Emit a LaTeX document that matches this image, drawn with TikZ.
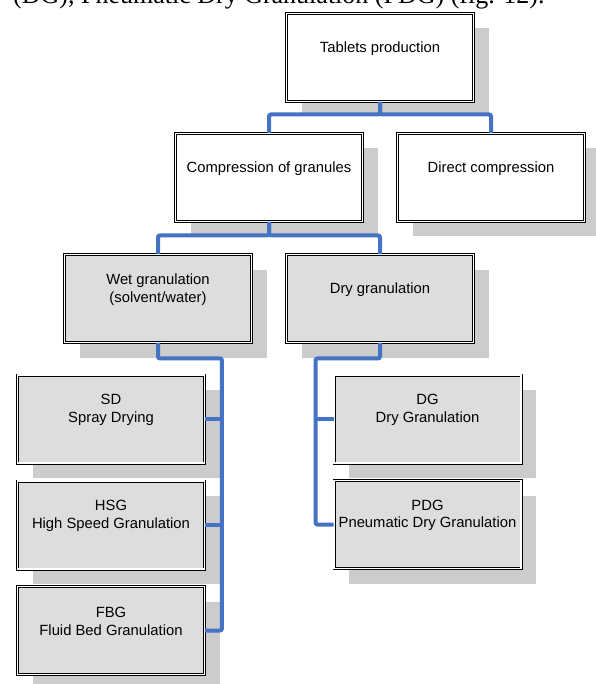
\documentclass[tikz,border=0pt]{standalone}
\usepackage{fontspec}
\setmainfont{Liberation Sans}
\newfontfamily\bodyfont{Liberation Serif}
\usetikzlibrary{shadows}

\definecolor{linkblue}{RGB}{68,114,196}
\definecolor{shadowgray}{RGB}{204,204,204}
\definecolor{boxgray}{RGB}{221,221,221}

\begin{document}
\begin{tikzpicture}[x=1pt, y=-1pt,
  box/.style={draw=black, double=white, double distance=1.2pt, line width=0.9pt,
              minimum width=187pt, minimum height=88pt, inner sep=0pt,
              general shadow={fill=shadowgray, shadow xshift=15pt, shadow yshift=-15pt}},
  whitebox/.style={box, fill=white},
  graybox/.style={box, fill=boxgray},
  txt/.style={align=center, font=\fontsize{14.8}{17.5}\selectfont},
  link/.style={linkblue, line width=4pt, rounded corners=2pt}]

\useasboundingbox (0,0) rectangle (595,684);

%\draw[help lines, step=50] (0,0) grid (595,684);

% text of the page above the figure
\node[anchor=base west, inner sep=0pt, font=\bodyfont\fontsize{26}{30}\selectfont] (pagetext) at (13,4)
     {(DG), Pneumatic Dry Granulation (PDG) (fig. 12).};

% first two levels
\node[whitebox] (tab) at (380,57.5) {};
\node[txt] (tabt) at ([yshift=-35.5pt]tab.north) {Tablets production};

\node[whitebox] (comp) at (269,177.5) {};
\node[txt] (compt) at ([yshift=-35.5pt]comp.north) {Compression of granules};

\node[whitebox] (direct) at (491,177.5) {};
\node[txt] (directt) at ([yshift=-35.5pt]direct.north) {Direct compression};

\node[graybox] (wet) at (158,298.5) {};
\node[txt] (wett) at ([yshift=-35.5pt]wet.north) {Wet granulation\\(solvent/water)};

\node[graybox] (dry) at (380,298.5) {};
\node[txt] (dryt) at ([yshift=-35.5pt]dry.north) {Dry granulation};

% wet methods
\node[graybox] (sd) at (111,419) {};
\node[txt] (sdt) at ([yshift=-35.5pt]sd.north) {SD\\Spray Drying};

\node[graybox] (hsg) at (111,525) {};
\node[txt] (hsgt) at ([yshift=-35.5pt]hsg.north) {HSG\\High Speed Granulation};

\node[graybox] (fbg) at (111,630.5) {};
\node[txt] (fbgt) at ([yshift=-35.5pt]fbg.north) {FBG\\Fluid Bed Granulation};

% dry methods
\node[graybox] (dg) at (427.5,419) {};
\node[txt] (dgt) at ([yshift=-35.5pt]dg.north) {DG\\Dry Granulation};

\node[graybox] (pdg) at (427.5,524.5) {};
\node[txt] (pdgt) at ([yshift=-35.5pt]pdg.north) {PDG\\Pneumatic Dry Granulation};

% connectors
\draw[link] (tab.south) -- ++(0,12.5) -| (comp.north);
\draw[link] (tab.south) -- ++(0,12.5) -| (direct.north);

\draw[link] (comp.south) -- ++(0,13.5) -| (wet.north);
\draw[link] (comp.south) -- ++(0,13.5) -| (dry.north);

\draw[link] (wet.south) -- ++(0,15.5) -| ([xshift=17pt]fbg.east) -- (fbg.east);
\draw[link] (sd.east) -- ++(17,0);
\draw[link] (hsg.east) -- ++(17,0);

\draw[link] (dry.south) -- ++(0,15.5) -| ([xshift=-18pt]pdg.west) -- (pdg.west);
\draw[link] (dg.west) -- ++(-18,0);

\end{tikzpicture}
\end{document}
